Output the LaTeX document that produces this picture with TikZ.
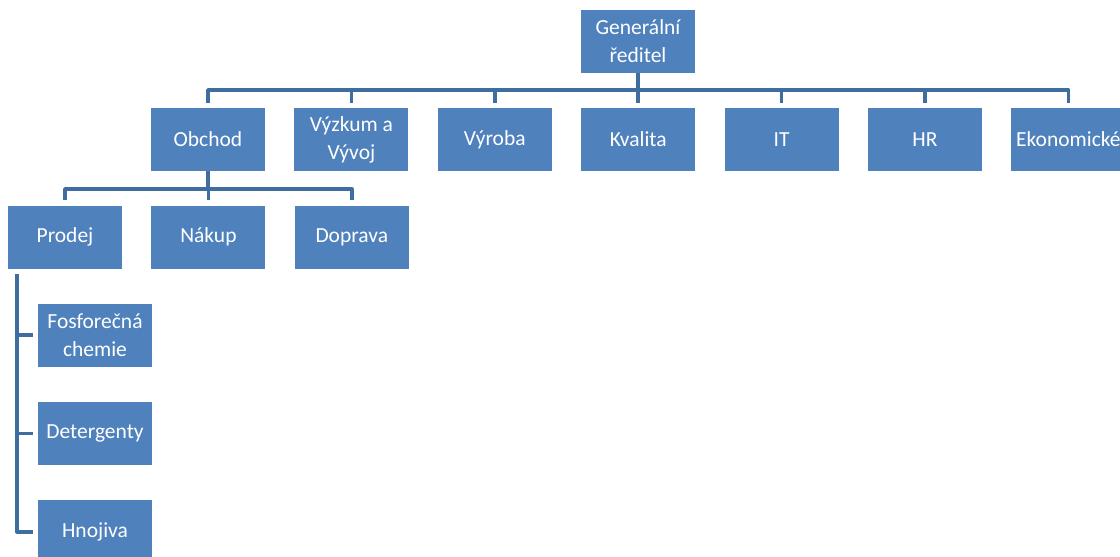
\documentclass[tikz,border=0pt]{standalone}
\usepackage{fontspec}
\setmainfont{Carlito}
\usetikzlibrary{calc}
\usetikzlibrary{positioning}
\definecolor{boxblue}{HTML}{4F81BD}
\definecolor{lineblue}{HTML}{3E6DA0}
\tikzset{
	unit/.style={
		rectangle,
		fill=boxblue,
		text=white,
		minimum width=114pt,
		minimum height=63pt,
		inner sep=2pt,
		align=center,
		font=\fontsize{21.5}{28}\selectfont},
	link/.style={draw=lineblue, line width=3.5pt, line join=round},
	stub/.style={link, shorten >=5pt},
}
\begin{document}
\begin{tikzpicture}
		[x=1pt, y=-1pt, node distance=29pt]
		\useasboundingbox (0,0) rectangle (1120,557);
		\node[unit] (gen) at (638,41) {Generální\\ředitel};
		% druha uroven
		\node[unit] (obchod) at (208,139.5) {Obchod};
		\node[unit, right=of obchod] (vyzkum) {Výzkum a\\Vývoj};
		\node[unit, right=of vyzkum] (vyroba) {Výroba};
		\node[unit, right=of vyroba] (kvalita) {Kvalita};
		\node[unit, right=of kvalita] (it) {IT};
		\node[unit, right=of it] (hr) {HR};
		\node[unit, right=of hr] (ekon) {Ekonomické};
		% treti uroven
		\node[unit] (prodej) at (65,237) {Prodej};
		\node[unit, right=of prodej] (nakup) {Nákup};
		\node[unit, right=of nakup] (doprava) {Doprava};
		% ctvrta uroven
		\node[unit] (fosfor) at (95,335) {Fosforečná\\chemie};
		\node[unit, below=35pt of fosfor] (deterg) {Detergenty};
		\node[unit, below=35pt of deterg] (hnojiva) {Hnojiva};

		\coordinate (bus1) at (0,90);
		\coordinate (bus2) at (0,189);
		\coordinate (bus3) at (17,274);

		\draw[link] (gen.south) -- (gen.south |- bus1);
		\draw[link, shorten <=5pt, shorten >=5pt] (obchod.north) -- (obchod.north |- bus1) -- (ekon.north |- bus1) -- (ekon.north);
		\foreach \n in {vyzkum,vyroba,kvalita,it,hr}
			\draw[stub] (\n.north |- bus1) -- (\n.north);

		\draw[link] (obchod.south) -- (obchod.south |- bus2);
		\draw[link, shorten <=5pt, shorten >=5pt] (prodej.north) -- (prodej.north |- bus2) -- (doprava.north |- bus2) -- (doprava.north);
		\draw[stub] (nakup.north |- bus2) -- (nakup.north);

		\draw[link] (bus3) -- (bus3 |- hnojiva.west) -- ++(16,0);
		\foreach \n in {fosfor,deterg}
			\draw[link] (bus3 |- \n.west) -- ++(16,0);
		\end{tikzpicture}
\end{document}
